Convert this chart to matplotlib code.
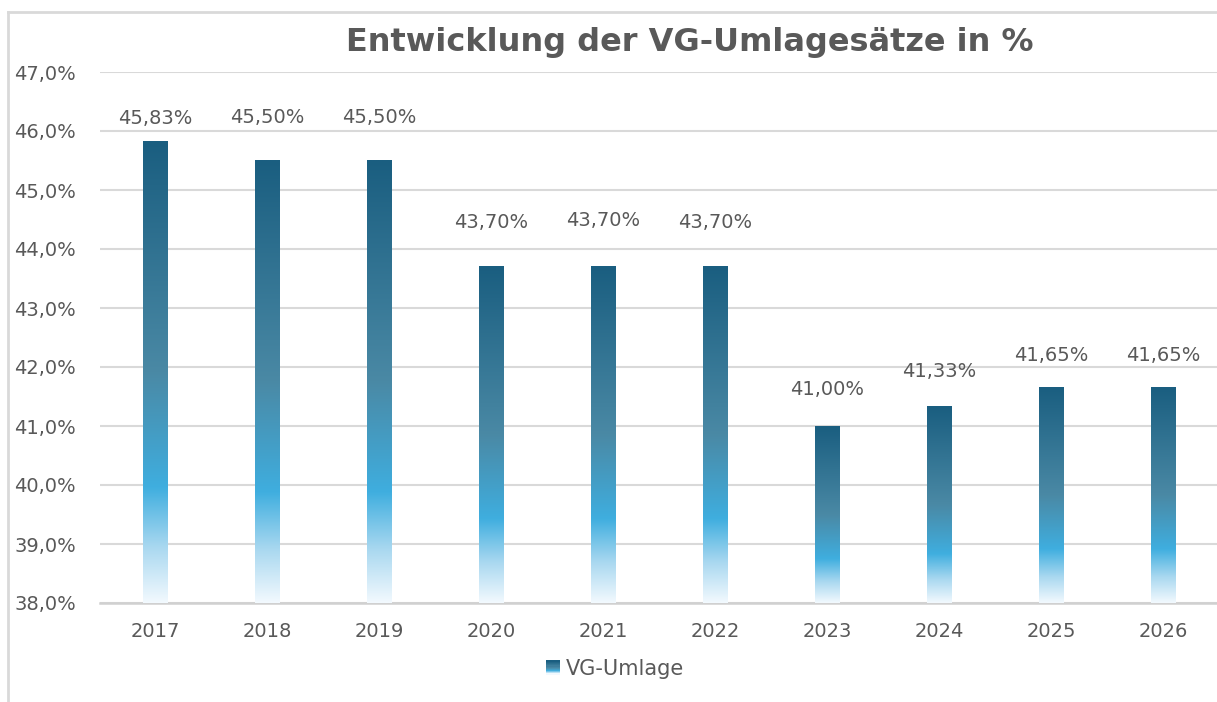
import numpy as np
import matplotlib.pyplot as plt
from matplotlib.colors import LinearSegmentedColormap
from matplotlib.legend_handler import HandlerBase
from matplotlib.patches import Rectangle, Patch
from matplotlib.lines import Line2D
from matplotlib.ticker import FuncFormatter

# data
years = ['2017', '2018', '2019', '2020', '2021', '2022', '2023', '2024', '2025', '2026']
rates = [45.83, 45.50, 45.50, 43.70, 43.70, 43.70, 41.00, 41.33, 41.65, 41.65]
series_name = 'VG-Umlage'
title = 'Entwicklung der VG-Umlagesätze in %'

# label distance above each bar (points) - labels were moved by hand in the original
label_offsets = [16, 31, 31, 32, 33, 32, 26, 25, 23.5, 23.5]

grey_text = '#595959'
grid_col = '#D9D9D9'

# gradient: bottom white -> bright blue -> greyish blue -> dark teal
cmap = LinearSegmentedColormap.from_list('vg', [
    (0.00, '#F2F9FE'),
    (0.12, '#A9D8F0'),
    (0.25, '#3FAEDF'),
    (0.50, '#4A89A5'),
    (1.00, '#1A5E80'),
])


class HandlerGradient(HandlerBase):
    def create_artists(self, legend, orig_handle, xdescent, ydescent,
                       width, height, fontsize, trans):
        n = 12
        side = height * 0.95
        x0 = xdescent + width - side
        y0 = -ydescent + (height - side) / 2
        arts = []
        for k in range(n):
            r = Rectangle((x0, y0 + side * k / n), side, side / n + 0.3,
                          facecolor=cmap(k / (n - 1)), edgecolor='none',
                          transform=trans)
            arts.append(r)
        return arts


plt.rcParams['font.family'] = ['DejaVu Sans']

fig = plt.figure(figsize=(12.17, 7.02), dpi=100)
ax = fig.add_axes([99.5 / 1217, 99 / 702, (1219 - 99.5) / 1217, 531 / 702])

x = np.arange(len(years))
bars = ax.bar(x, rates, width=0.22, bottom=0, color='none', edgecolor='none', zorder=3)

grad = np.linspace(0, 1, 256).reshape(-1, 1)
for b, v, off in zip(bars, rates, label_offsets):
    x0 = b.get_x()
    w = b.get_width()
    ax.imshow(grad, cmap=cmap, origin='lower', aspect='auto',
              extent=[x0, x0 + w, 38, v], zorder=3, interpolation='bilinear')
    ax.annotate(f'{v:.2f}'.replace('.', ',') + '%', xy=(x0 + w / 2, v),
                xytext=(0, off), textcoords='offset points', ha='center', va='center',
                fontsize=14, color=grey_text)

ax.set_xlim(-0.5, 9.5)
ax.set_ylim(38, 47)
ax.set_yticks(np.arange(38, 47.1, 1))
ax.yaxis.set_major_formatter(FuncFormatter(lambda v, p: f'{v:.1f}'.replace('.', ',') + '%'))
ax.set_xticks(x)
ax.set_xticklabels(years)

ax.grid(axis='y', color=grid_col, linewidth=1.5, zorder=0)
ax.set_axisbelow(True)
for s in ['left', 'right', 'top']:
    ax.spines[s].set_visible(False)
ax.spines['bottom'].set_color('#D0D0D0')
ax.spines['bottom'].set_linewidth(1.8)
ax.tick_params(axis='both', length=0, labelsize=14, colors=grey_text)
ax.tick_params(axis='y', pad=17)
ax.tick_params(axis='x', pad=14)

fig.text(690 / 1217, 1 - 42 / 702, title, ha='center', va='center',
         fontsize=23, fontweight='bold', color=grey_text)

handle = Patch(facecolor='#1A5E80')
fig.legend([handle], [series_name], loc='center', bbox_to_anchor=(615 / 1217, 1 - 669 / 702),
           frameon=False, fontsize=15, labelcolor=grey_text, handlelength=0.7,
           handletextpad=0.3, handler_map={Patch: HandlerGradient()})

# outer chart frame (cropped at right and bottom)
fig.add_artist(Line2D([8 / 1217, 8 / 1217], [0, 1 - 12 / 702], transform=fig.transFigure,
                      color=grid_col, linewidth=2))
fig.add_artist(Line2D([8 / 1217, 1], [1 - 12 / 702, 1 - 12 / 702], transform=fig.transFigure,
                      color=grid_col, linewidth=2))

fig.savefig('out.png', dpi=100)
